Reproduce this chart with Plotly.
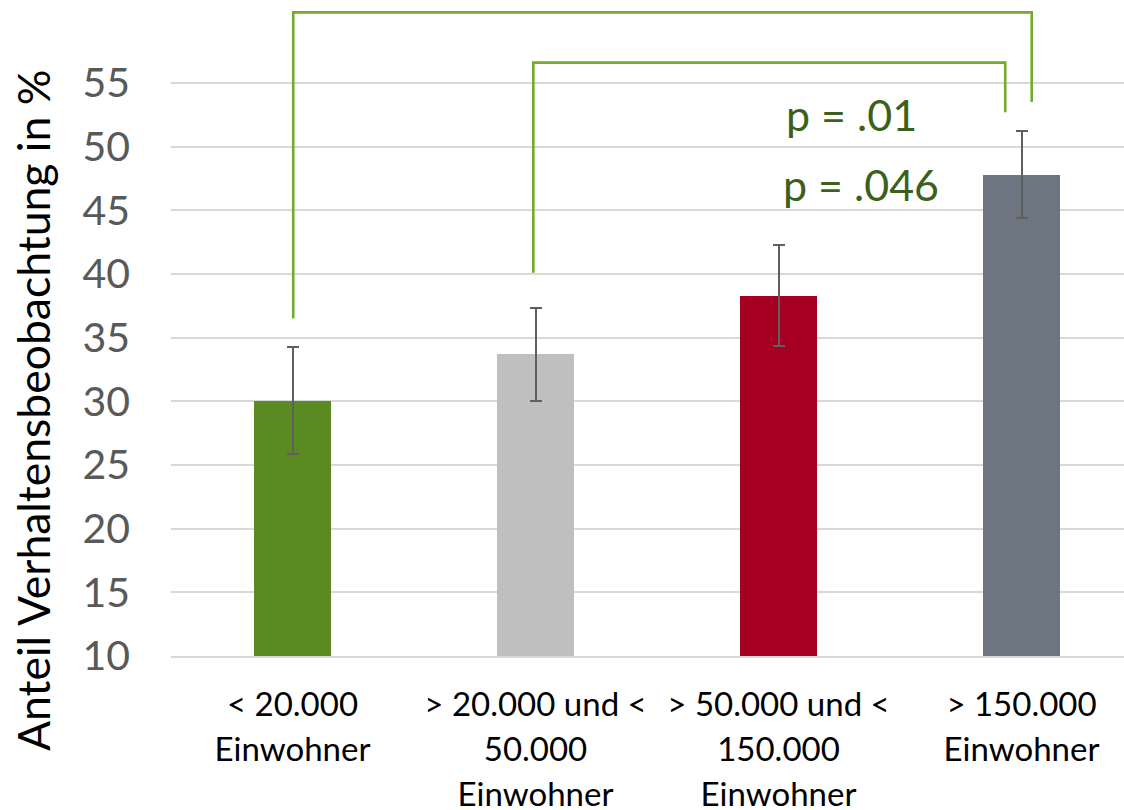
import plotly.graph_objects as go

# Gemeindegröße und Anteil Verhaltensbeobachtung (Mittelwert mit Fehlerbalken)
category_lines = [
    ["&lt; 20.000", "Einwohner"],
    ["&gt; 20.000 und &lt;", "50.000", "Einwohner"],
    ["&gt; 50.000 und &lt;", "150.000", "Einwohner"],
    ["&gt; 150.000", "Einwohner"],
]
values = [30.05, 33.7, 38.3, 47.8]
errors = [4.2, 3.65, 3.95, 3.4]
bar_colors = ["#5b8a23", "#bfbfbf", "#a50021", "#6c7580"]
y_ticks = [10, 15, 20, 25, 30, 35, 40, 45, 50, 55]
y_title = "Anteil Verhaltensbeobachtung in %"

# Signifikanzvergleiche: Gruppe -> Gruppe, p-Wert
cmp_from = [0, 1]
cmp_to = [3, 3]
cmp_labels = ["p = .046", "p = .01"]

x_pos = list(range(len(category_lines)))

# Beschriftung: Glyphen in 33 px, Zeilenabstand aus der größeren Basisschrift
tick_text = ["<br>".join(f'<span style="font-size:33px">{ln}</span>' for ln in lines)
             for lines in category_lines]

fig = go.Figure()
fig.add_trace(go.Bar(
    x=x_pos,
    y=values,
    width=0.317,
    marker=dict(color=bar_colors, line=dict(width=0)),
    error_y=dict(type="data", array=errors, visible=True,
                 color="#5f5f5f", thickness=2, width=6),
    showlegend=False,
    hoverinfo="skip",
))

# Klammern über den Balken (Geometrie der Vergleichslinien)
bracket_geom = [
    # (x-Versatz links, y unten links, y oben, x-Versatz rechts, y unten rechts)
    (0.003, 36.5, 60.55, 0.042, 53.5),
    (-0.009, 40.1, 56.6, -0.067, 52.7),
]
green = "#72ab2e"
for i0, i1, g in zip(cmp_from, cmp_to, bracket_geom):
    xl = i0 + g[0]
    xr = i1 + g[3]
    path = f"M {xl},{g[1]} L {xl},{g[2]} L {xr},{g[2]} L {xr},{g[4]}"
    fig.add_shape(type="path", path=path, xref="x", yref="y",
                  line=dict(color=green, width=2.6), layer="above")

# p-Werte
label_pos = [(2.34, 47.0), (2.30, 52.5)]
for txt, (lx, ly) in zip(cmp_labels, label_pos):
    fig.add_annotation(x=lx, y=ly, xref="x", yref="y", text=txt,
                       showarrow=False, xanchor="center", yanchor="middle",
                       font=dict(family="Lato", size=43, color="#3d5f1c"))

# Achsentitel der y-Achse
fig.add_annotation(x=-0.1459, y=0.375, xref="paper", yref="paper",
                   text=y_title, textangle=-90, showarrow=False,
                   xanchor="center", yanchor="middle",
                   font=dict(family="Lato", size=44.5, color="#000000"))

fig.update_layout(
    width=1124, height=810,
    margin=dict(l=171, r=0, t=0, b=154, autoexpand=False),
    plot_bgcolor="white", paper_bgcolor="white",
    bargap=0,
    xaxis=dict(
        range=[-0.5, 3.4218],
        tickmode="array", tickvals=x_pos, ticktext=tick_text,
        tickfont=dict(family="Lato", size=34.6, color="#000000"),
        showgrid=False, zeroline=False,
        showline=True, linecolor="#d9d9d9", linewidth=1.5,
        ticks="", ticklabelstandoff=17,
        fixedrange=True,
    ),
    yaxis=dict(
        range=[10, 10 + 656 / 12.733],
        tickmode="array", tickvals=y_ticks,
        tickfont=dict(family="Lato", size=41, color="#595959"),
        showgrid=True, gridcolor="#d9d9d9", gridwidth=1.5,
        zeroline=False, showline=False, ticks="",
        ticklabelstandoff=40,
        automargin=False,
        fixedrange=True,
    ),
)

fig.write_html("out.html")
